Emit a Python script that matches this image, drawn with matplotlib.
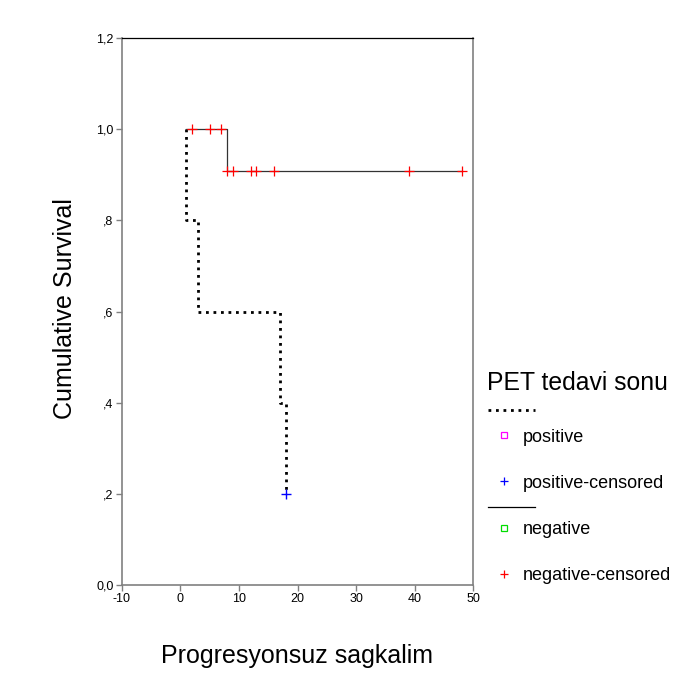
import matplotlib.pyplot as plt
from matplotlib.lines import Line2D

plt.rcParams['font.family'] = ['Liberation Sans', 'DejaVu Sans']
plt.rcParams['axes.unicode_minus'] = False

# Kaplan-Meier steps
pos_time = [1, 1, 3, 3, 17, 17, 18, 18]
pos_surv = [1.0, 0.8, 0.8, 0.6, 0.6, 0.4, 0.4, 0.2]
pos_cens_time = [18]
pos_cens_surv = [0.2]

neg_time = [1, 8, 8, 48]
neg_surv = [1.0, 1.0, 0.909, 0.909]
neg_cens_time = [2, 5, 7, 8, 9, 12, 13, 16, 39, 48]
neg_cens_surv = [1.0, 1.0, 1.0, 0.909, 0.909, 0.909, 0.909, 0.909, 0.909, 0.909]

xticks = [-10, 0, 10, 20, 30, 40, 50]
yticks = [0.0, 0.2, 0.4, 0.6, 0.8, 1.0, 1.2]
ytick_labels = ["0,0", ",2", ",4", ",6", ",8", "1,0", "1,2"]

legend_title = "PET tedavi sonu"
legend_labels = ["positive", "positive-censored", "negative", "negative-censored"]

fig = plt.figure(figsize=(6.8, 6.84), dpi=100)
ax = fig.add_axes([0.179, 0.1447, 0.517, 0.7997])

dot_style = (0, (1, 1.7))
ax.plot(pos_time, pos_surv, color="black", lw=2.0, linestyle=dot_style,
        dash_capstyle="butt")
ax.plot(neg_time, neg_surv, color="#333333", lw=0.9)
ax.plot(pos_cens_time, pos_cens_surv, "+", color="blue", ms=7, mew=1)
ax.plot(neg_cens_time, neg_cens_surv, "+", color="red", ms=7, mew=0.9)

ax.set_xlim(-10, 50)
ax.set_ylim(0, 1.2)
ax.set_xticks(xticks)
ax.set_yticks(yticks)
ax.set_yticklabels(ytick_labels)
ax.tick_params(labelsize=9, length=4, width=1, color="#808080", pad=2)

for side in ["left", "bottom", "right"]:
    ax.spines[side].set_color("#808080")
    ax.spines[side].set_linewidth(1.2)
ax.spines["top"].set_color("black")
ax.spines["top"].set_linewidth(0.9)

fig.text(65 / 680, 1 - 309 / 684, "Cumulative Survival", rotation=90,
         ha="center", va="center", fontsize=18)
fig.text(297 / 680, 1 - 656 / 684, "Progresyonsuz sagkalim",
         ha="center", va="center", fontsize=18)

# legend drawn by hand, SPSS style
def fx(px):
    return px / 680

def fy(py):
    return 1 - py / 684

fig.text(fx(487), fy(383), legend_title, ha="left", va="center", fontsize=17.8)
fig.add_artist(Line2D([fx(488), fx(535)], [fy(410), fy(410)], color="black",
                      lw=2.0, linestyle=dot_style, transform=fig.transFigure))
fig.add_artist(Line2D([fx(488), fx(535)], [fy(507), fy(507)], color="black",
                      lw=0.9, transform=fig.transFigure))

marker_specs = [("s", "magenta"), ("+", "blue"), ("s", "#00dd00"), ("+", "red")]
rows = [437, 483, 530, 576]
for (mk, col), row, lab in zip(marker_specs, rows, legend_labels):
    if mk == "s":
        fig.add_artist(Line2D([fx(504)], [fy(row - 2)], marker="s", ms=4,
                              mfc="none", mec=col, mew=0.9, linestyle="none",
                              transform=fig.transFigure))
    else:
        fig.add_artist(Line2D([fx(504)], [fy(row - 2)], marker="+", ms=6,
                              color=col, mew=0.9, linestyle="none",
                              transform=fig.transFigure))
    fig.text(fx(523), fy(row), lab, ha="left", va="center", fontsize=13)

fig.savefig("out.png", dpi=100)
